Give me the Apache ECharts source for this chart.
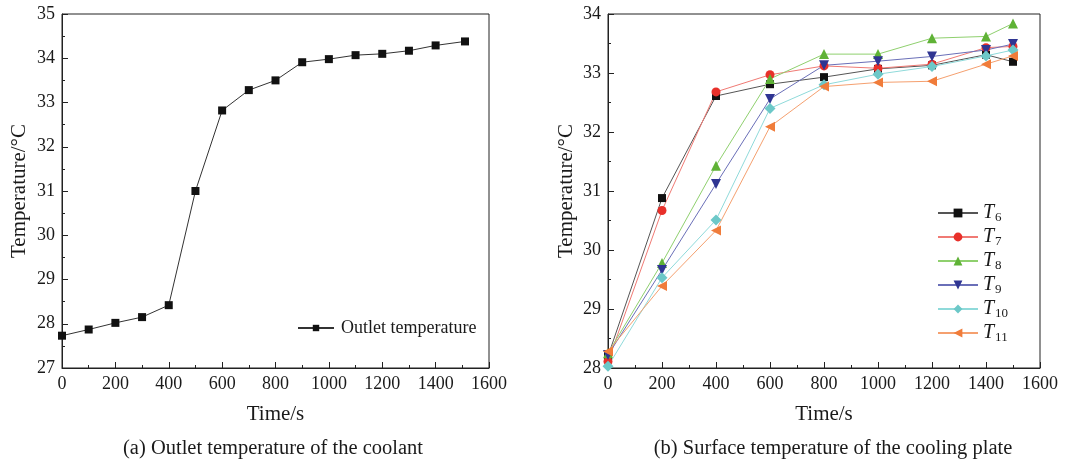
<!DOCTYPE html>
<html>
<head>
<meta charset="utf-8">
<script src="https://cdn.jsdelivr.net/npm/echarts@6/dist/echarts.min.js"></script>
<style>
  html, body { margin: 0; padding: 0; background: #fff; }
  #chart { width: 1074px; height: 461px; }
</style>
</head>
<body>
<div id="chart"></div>
<script>
// (a) Outlet temperature of the coolant
const timesA = [0, 100, 200, 300, 400, 500, 600, 700, 800, 900, 1000, 1100, 1200, 1300, 1400, 1510];
const outletTemp = [27.73, 27.87, 28.02, 28.15, 28.42, 31.0, 32.82, 33.28, 33.50, 33.91, 33.98, 34.07, 34.10, 34.17, 34.29, 34.38];

// (b) Surface temperature of the cooling plate
const timesB = [0, 200, 400, 600, 800, 1000, 1200, 1400, 1500];
const T6  = [28.20, 30.88, 32.61, 32.81, 32.93, 33.07, 33.13, 33.31, 33.19];
const T7  = [28.11, 30.67, 32.68, 32.97, 33.12, 33.08, 33.15, 33.43, 33.45];
const T8  = [28.25, 29.78, 31.43, 32.90, 33.32, 33.32, 33.59, 33.62, 33.84];
const T9  = [28.22, 29.66, 31.12, 32.56, 33.13, 33.20, 33.28, 33.39, 33.49];
const T10 = [28.03, 29.53, 30.51, 32.40, 32.80, 32.98, 33.11, 33.29, 33.39];
const T11 = [28.28, 29.39, 30.33, 32.09, 32.77, 32.84, 32.86, 33.15, 33.29];

const seriesB = [
  { key: 'T6',  sub: '6',  data: T6,  color: '#111111', line: '#555555', symbol: 'rect',     rotate: 0,   size: 8 },
  { key: 'T7',  sub: '7',  data: T7,  color: '#e8302a', line: '#f07a74', symbol: 'circle',   rotate: 0,   size: 9 },
  { key: 'T8',  sub: '8',  data: T8,  color: '#5fb236', line: '#8fd06e', symbol: 'triangle', rotate: 0,   size: 10 },
  { key: 'T9',  sub: '9',  data: T9,  color: '#2f3592', line: '#6a6fb8', symbol: 'triangle', rotate: 180, size: 10 },
  { key: 'T10', sub: '10', data: T10, color: '#6cc8c8', line: '#8fdada', symbol: 'diamond',  rotate: 0,   size: 11 },
  { key: 'T11', sub: '11', data: T11, color: '#f07c3a', line: '#f5a06f', symbol: 'triangle', rotate: 90,  size: 10 }
];

const FONT = '"Liberation Serif", "DejaVu Serif", serif';
const TXT = '#1a1a1a';

function pairs(xs, ys) { return xs.map((x, i) => [x, ys[i]]); }

function xAxisCfg(gridIndex) {
  return {
    type: 'value', gridIndex, min: 0, max: 1600, interval: 200,
    name: 'Time/s', nameLocation: 'middle', nameGap: 36,
    nameTextStyle: { fontFamily: FONT, fontSize: 21, color: TXT },
    axisLine: { onZero: false, lineStyle: { color: '#222', width: 1 } },
    axisTick: { inside: true, length: 6, lineStyle: { color: '#222' } },
    minorTick: { show: true, splitNumber: 2, length: 3, lineStyle: { color: '#222' } },
    axisLabel: { fontFamily: FONT, fontSize: 18, color: TXT, margin: 7, formatter: v => String(v) },
    splitLine: { show: false }
  };
}
function yAxisCfg(gridIndex, min, max, gap) {
  return {
    type: 'value', gridIndex, min, max, interval: 1,
    name: 'Temperature/°C', nameLocation: 'middle', nameGap: gap,
    nameTextStyle: { fontFamily: FONT, fontSize: 21, color: TXT },
    axisLine: { show: true, lineStyle: { color: '#222', width: 1 } },
    axisTick: { inside: true, length: 6, lineStyle: { color: '#222' } },
    minorTick: { show: true, splitNumber: 2, length: 3, lineStyle: { color: '#222' } },
    axisLabel: { fontFamily: FONT, fontSize: 18, color: TXT, margin: 7 },
    splitLine: { show: false }
  };
}

const chart = echarts.init(document.getElementById('chart'), null, { renderer: 'canvas' });

const option = {
  backgroundColor: '#fff',
  animation: false,
  textStyle: { fontFamily: FONT },
  title: [
    { text: '(a) Outlet temperature of the coolant', left: 268, top: 433, textAlign: 'center',
      textStyle: { fontFamily: FONT, fontSize: 20.5, fontWeight: 'normal', color: TXT } },
    { text: '(b) Surface temperature of the cooling plate', left: 828, top: 433, textAlign: 'center',
      textStyle: { fontFamily: FONT, fontSize: 20.5, fontWeight: 'normal', color: TXT } }
  ],
  grid: [
    { left: 62, right: 585, top: 14, bottom: 93, show: true, borderColor: '#222', borderWidth: 1 },
    { left: 608, right: 34, top: 14, bottom: 93, show: true, borderColor: '#222', borderWidth: 1 }
  ],
  xAxis: [xAxisCfg(0), xAxisCfg(1)],
  yAxis: [yAxisCfg(0, 27, 35, 32), yAxisCfg(1, 28, 34, 31)],
  legend: [
    {
      data: ['Outlet temperature'],
      left: 292, top: 314, itemWidth: 36, itemHeight: 8, itemGap: 10,
      textStyle: { fontFamily: FONT, fontSize: 18, color: TXT, padding: [0, 0, 0, 2] }
    },
    {
      data: seriesB.map(s => s.key),
      orient: 'vertical', left: 932, top: 197, itemWidth: 40, itemHeight: 11, itemGap: 2,
      formatter: name => {
        const s = seriesB.find(d => d.key === name);
        return '{t|T}{s|' + s.sub + '}';
      },
      textStyle: {
        fontFamily: FONT, color: TXT,
        rich: {
          t: { fontFamily: FONT, fontStyle: 'italic', fontSize: 20, color: TXT, lineHeight: 20, padding: [0, 1, 0, 0] },
          s: { fontFamily: FONT, fontSize: 13, color: TXT, lineHeight: 20, padding: [9, 0, 0, 0] }
        }
      }
    }
  ],
  series: [
    {
      name: 'Outlet temperature', type: 'line', xAxisIndex: 0, yAxisIndex: 0,
      data: pairs(timesA, outletTemp),
      symbol: 'rect', symbolSize: 8,
      lineStyle: { color: '#333', width: 1 },
      itemStyle: { color: '#111' }
    }
  ].concat(seriesB.map(s => ({
    name: s.key, type: 'line', xAxisIndex: 1, yAxisIndex: 1,
    data: pairs(timesB, s.data),
    symbol: s.symbol, symbolRotate: s.rotate, symbolSize: s.size,
    lineStyle: { color: s.line, width: 1 },
    itemStyle: { color: s.color }
  })))
};

chart.setOption(option);
</script>
</body>
</html>
